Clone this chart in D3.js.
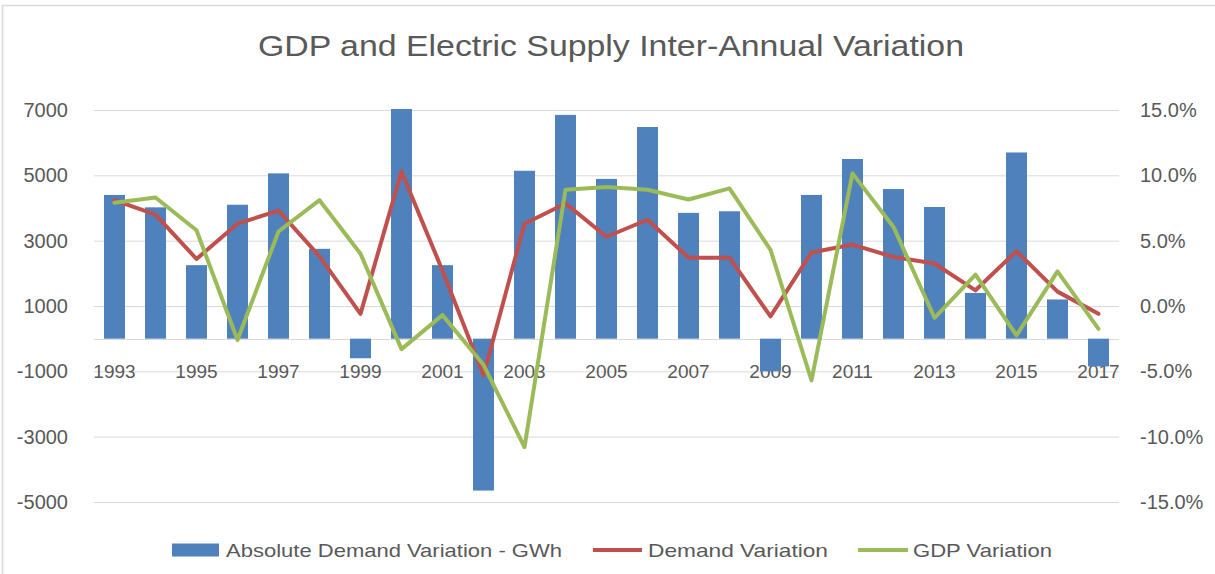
<!DOCTYPE html>
<html>
<head>
<meta charset="utf-8">
<script src="https://cdn.jsdelivr.net/npm/d3@7"></script>
<style>
  html, body { margin: 0; padding: 0; background: #ffffff; }
  svg { display: block; }
</style>
</head>
<body>
<svg id="chart" width="1215" height="574"></svg>
<script>
// ---- Data ----
const years = [1993,1994,1995,1996,1997,1998,1999,2000,2001,2002,2003,2004,2005,2006,2007,2008,2009,2010,2011,2012,2013,2014,2015,2016,2017];
const absoluteDemand = [4400,4020,2250,4100,5060,2750,-600,7030,2250,-4650,5140,6850,4890,6480,3850,3900,-1000,4400,5500,4580,4030,1400,5700,1200,-850];
const demandVariation = [8.1,7.0,3.6,6.3,7.3,3.8,-0.6,10.3,2.7,-5.3,6.3,7.85,5.3,6.6,3.7,3.7,-0.8,4.1,4.7,3.75,3.25,1.2,4.2,1.1,-0.6];
const gdpVariation = [7.9,8.3,5.8,-2.6,5.7,8.1,4.0,-3.3,-0.7,-4.5,-10.8,8.9,9.1,8.9,8.15,9.0,4.3,-5.7,10.15,6.05,-0.9,2.4,-2.25,2.65,-1.75];
const leftTicks = [-5000,-3000,-1000,1000,3000,5000,7000];
const rightTicks = [-15,-10,-5,0,5,10,15];
const xLabelYears = years.filter((d,i) => i % 2 === 0);
const titleText = "GDP and Electric Supply Inter-Annual Variation";
const seriesNames = ["Absolute Demand Variation - GWh", "Demand Variation", "GDP Variation"];

// ---- Styles ----
const C_BAR = "#4f81bd", C_RED = "#c0504d", C_GREEN = "#9bbb59";
const C_TEXT = "#595959", C_GRID = "#d9d9d9";
const FONT = "'Liberation Sans', Arial, sans-serif";

const svg = d3.select("#chart");
const plot = { left: 94, right: 1119, top: 110, bottom: 502 };

// outer border (only left & top visible in crop)
svg.append("rect").attr("x", 2.5).attr("y", 5.5).attr("width", 1400).attr("height", 800)
  .attr("fill", "none").attr("stroke", C_GRID).attr("stroke-width", 1.5);

// scales
const x = d3.scaleBand().domain(years).range([plot.left, plot.right]).padding(0);
const yL = d3.scaleLinear().domain([-5000, 7000]).range([plot.bottom, plot.top]);
const yR = d3.scaleLinear().domain([-15, 15]).range([plot.bottom, plot.top]);

// title
svg.append("text").attr("x", 611).attr("y", 56).attr("text-anchor", "middle")
  .attr("font-family", FONT).attr("font-size", 29).attr("fill", C_TEXT)
  .attr("textLength", 706).attr("lengthAdjust", "spacingAndGlyphs")
  .text(titleText);

// gridlines via axis
const gridAxis = d3.axisLeft(yL).tickValues(leftTicks).tickSize(-(plot.right - plot.left)).tickFormat("");
const gg = svg.append("g").attr("transform", `translate(${plot.left},0)`).call(gridAxis);
gg.select(".domain").remove();
gg.selectAll("line").attr("stroke", C_GRID).attr("stroke-width", 1);

// zero axis line
svg.append("line").attr("x1", plot.left).attr("x2", plot.right)
  .attr("y1", Math.round(yL(0)) + 0.5).attr("y2", Math.round(yL(0)) + 0.5)
  .attr("stroke", C_GRID).attr("stroke-width", 1);

// left axis labels
const la = svg.append("g").attr("transform", `translate(68,0)`)
  .call(d3.axisLeft(yL).tickValues(leftTicks).tickSize(0).tickPadding(0).tickFormat(d => String(d)));
la.select(".domain").remove();
la.selectAll("text").attr("font-family", FONT).attr("font-size", 20).attr("fill", C_TEXT)
  .attr("text-anchor", "end");

// right axis labels
const ra = svg.append("g").attr("transform", `translate(1140,0)`)
  .call(d3.axisRight(yR).tickValues(rightTicks).tickSize(0).tickPadding(0).tickFormat(d => d.toFixed(1) + "%"));
ra.select(".domain").remove();
ra.selectAll("text").attr("font-family", FONT).attr("font-size", 20).attr("fill", C_TEXT)
  .attr("text-anchor", "start");

// category labels next to zero axis
const ca = svg.append("g").attr("transform", `translate(0,${yL(0) + 26})`)
  .call(d3.axisBottom(x).tickValues(xLabelYears).tickSize(0).tickPadding(0));
ca.select(".domain").remove();
ca.selectAll("text").attr("font-family", FONT).attr("font-size", 19).attr("fill", C_TEXT)
  .attr("dy", "0.71em");

// bars
const barW = 21;
svg.append("g").selectAll("rect").data(years).join("rect")
  .attr("x", (d) => x(d) + (x.bandwidth() - barW) / 2)
  .attr("width", barW)
  .attr("y", (d, i) => yL(Math.max(0, absoluteDemand[i])))
  .attr("height", (d, i) => Math.abs(yL(absoluteDemand[i]) - yL(0)))
  .attr("fill", C_BAR);

// lines
const cx = d => x(d) + x.bandwidth() / 2;
const lineGen = vals => d3.line().x((d) => cx(d)).y((d, i) => yR(vals[i]))(years);
svg.append("path").attr("d", lineGen(demandVariation)).attr("fill", "none")
  .attr("stroke", C_RED).attr("stroke-width", 4).attr("stroke-linejoin", "round").attr("stroke-linecap", "round");
svg.append("path").attr("d", lineGen(gdpVariation)).attr("fill", "none")
  .attr("stroke", C_GREEN).attr("stroke-width", 4).attr("stroke-linejoin", "round").attr("stroke-linecap", "round");

// legend
const leg = svg.append("g").attr("font-family", FONT).attr("font-size", 19).attr("fill", C_TEXT);
const legY = 550;
leg.append("rect").attr("x", 172).attr("y", legY - 6.5).attr("width", 47).attr("height", 13).attr("fill", C_BAR);
leg.append("text").attr("x", 226).attr("y", legY + 7).attr("textLength", 336).attr("lengthAdjust", "spacingAndGlyphs").text(seriesNames[0]);
leg.append("line").attr("x1", 593).attr("x2", 642).attr("y1", legY).attr("y2", legY)
  .attr("stroke", C_RED).attr("stroke-width", 4);
leg.append("text").attr("x", 648).attr("y", legY + 7).attr("textLength", 180).attr("lengthAdjust", "spacingAndGlyphs").text(seriesNames[1]);
leg.append("line").attr("x1", 858).attr("x2", 908).attr("y1", legY).attr("y2", legY)
  .attr("stroke", C_GREEN).attr("stroke-width", 4);
leg.append("text").attr("x", 913).attr("y", legY + 7).attr("textLength", 139).attr("lengthAdjust", "spacingAndGlyphs").text(seriesNames[2]);
</script>
</body>
</html>
